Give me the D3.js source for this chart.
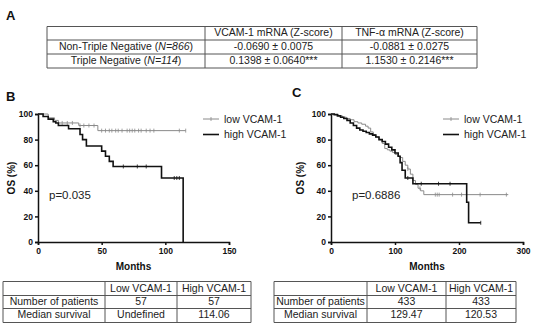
<!DOCTYPE html>
<html>
<head>
<meta charset="utf-8">
<script src="https://cdn.jsdelivr.net/npm/d3@7"></script>
<style>
body { margin: 0; background: #fff; }
svg { display: block; font-family: "Liberation Sans", Arial, sans-serif; }
</style>
</head>
<body>
<svg id="fig" width="550" height="332"></svg>
<script>
// table A
var tableAHead = ["", "VCAM-1 mRNA (Z-score)", "TNF-\u03b1 mRNA (Z-score)"];
var tableAGroups = [["Non-Triple Negative (", "N=866", ")"], ["Triple Negative (", "N=114", ")"]];
var tableAVcam = ["-0.0690 \u00b1 0.0075", "0.1398 \u00b1 0.0640***"];
var tableATnf = ["-0.0881 \u00b1 0.0275", "1.1530 \u00b1 0.2146***"];

// panel B (n=57 per group)
var bLowTime = [0, 8, 13, 16, 32, 47, 116];
var bLowSurv = [100, 97, 95, 93, 91, 87, 87];
var bLowCens = [19, 23, 27, 33, 36, 40, 44, 50, 53, 56, 58, 61, 63, 66, 70, 72, 74, 76, 79, 81, 85, 88, 91, 111, 116];
var bHighTime = [0, 4, 8, 12, 14, 16, 24, 33, 35, 38, 50, 53, 56, 59, 97, 114];
var bHighSurv = [100, 98, 96, 94, 93, 91, 88.5, 84, 80, 75, 71, 67, 63, 59, 50, 0];
var bHighCens = [67, 78, 85, 107, 109, 111];

// panel C (n=433 per group)
var cLowTime = [0, 6, 12, 18, 24, 30, 36, 42, 48, 54, 58, 62, 66, 70, 75, 80, 84, 88, 92, 96, 100, 104, 108, 112, 116, 120, 124, 128, 132, 136, 140, 145, 277];
var cLowSurv = [100, 99.5, 98.5, 97.5, 96.5, 95.5, 94, 93, 92, 90.5, 89, 86, 84, 82, 80, 77, 73, 72, 71, 70, 68.5, 67, 66, 63, 60, 57, 53, 48, 45, 42, 40, 37, 37];
var cLowCens = [120, 139, 163, 166, 169, 190, 204, 233, 274];
var cHighTime = [0, 5, 10, 15, 20, 25, 30, 35, 40, 45, 50, 55, 60, 65, 70, 75, 80, 85, 90, 95, 100, 105, 108, 111, 116, 128, 212, 215, 234];
var cHighSurv = [100, 99.5, 98.5, 97.5, 96.5, 95, 93, 91, 89, 87.5, 86.5, 85.5, 84.5, 83.5, 82, 80, 78.5, 76.5, 74, 72, 69.5, 67, 62, 56, 50, 45.5, 31, 15, 15];
var cHighCens = [120, 141, 168, 186, 234];

var yTicks = [0, 20, 40, 60, 80, 100];
var bXTicks = [0, 50, 100, 150];
var cXTicks = [0, 100, 200, 300];

var tableBHead = ["", "Low VCAM-1", "High VCAM-1"];
var tableBRows = [["Number of patients", "57", "57"], ["Median survival", "Undefined", "114.06"]];
var tableCHead = ["", "Low VCAM-1", "High VCAM-1"];
var tableCRows = [["Number of patients", "433", "433"], ["Median survival", "129.47", "120.53"]];

var svg = d3.select("#fig");

// ---------- table A ----------
var aCols = [47, 205, 342, 477];
var aRows = [26, 39.5, 53.5, 67.5];
var drawGrid = function(g, cols, rows){
	for (var i = 0; i < rows.length; i++){
		g.append("line").attr("x1", cols[0]).attr("x2", cols[cols.length - 1])
			.attr("y1", rows[i]).attr("y2", rows[i]).attr("stroke", "#555").attr("stroke-width", 1);
	}
	for (var j = 0; j < cols.length; j++){
		g.append("line").attr("x1", cols[j]).attr("x2", cols[j])
			.attr("y1", rows[0]).attr("y2", rows[rows.length - 1]).attr("stroke", "#555").attr("stroke-width", 1);
	}
};
var cellText = function(g, cols, rows, r, c, txt){
	return g.append("text")
		.attr("x", (cols[c] + cols[c + 1]) / 2)
		.attr("y", (rows[r] + rows[r + 1]) / 2 + 3.6)
		.attr("text-anchor", "middle")
		.attr("font-size", "10.5px")
		.attr("fill", "#222")
		.text(txt);
};
var gA = svg.append("g");
drawGrid(gA, aCols, aRows.map(function(d){ return d + 0.5; }));
cellText(gA, aCols, aRows, 0, 1, tableAHead[1]);
cellText(gA, aCols, aRows, 0, 2, tableAHead[2]);
tableAGroups.forEach(function(d, i){
	var t = cellText(gA, aCols, aRows, i + 1, 0, "");
	t.append("tspan").text(d[0]);
	t.append("tspan").attr("font-style", "italic").text(d[1]);
	t.append("tspan").text(d[2]);
	cellText(gA, aCols, aRows, i + 1, 1, tableAVcam[i]);
	cellText(gA, aCols, aRows, i + 1, 2, tableATnf[i]);
});

// panel letters
var letter = function(x, y, t){
	svg.append("text").attr("x", x).attr("y", y).attr("font-weight", "bold")
		.attr("font-size", "13px").attr("fill", "#111").text(t);
};
letter(6, 20, "A");
letter(6, 101, "B");
letter(292, 97, "C");

// ---------- survival panels ----------
var drawPanel = function(opt){
	var g = svg.append("g");
	var x = d3.scaleLinear().domain(opt.xDomain).range(opt.xRange);
	var y = d3.scaleLinear().domain([0, 100]).range([242, 114]);

	var yAxis = g.append("g").attr("transform", "translate(" + opt.xRange[0] + ",0)")
		.call(d3.axisLeft(y).tickValues(yTicks).tickSize(3).tickPadding(2));
	var xAxis = g.append("g").attr("transform", "translate(0,242)")
		.call(d3.axisBottom(x).tickValues(opt.xTicks).tickSize(3).tickPadding(3));
	[xAxis, yAxis].forEach(function(a){
		a.select(".domain").attr("stroke", "#111").attr("stroke-width", 1.5);
		a.selectAll(".tick line").attr("stroke", "#111").attr("stroke-width", 1.5);
		a.selectAll("text").attr("font-family", "Liberation Sans, Arial, sans-serif")
			.attr("font-weight", "bold").attr("font-size", "8.5px").attr("fill", "#111");
	});

	g.append("text").attr("transform", "translate(" + opt.yLabelX + ",178) rotate(-90)")
		.attr("text-anchor", "middle").attr("font-weight", "bold").attr("font-size", "10px")
		.attr("fill", "#111").text("OS (%)");
	g.append("text").attr("x", (opt.xRange[0] + opt.xRange[1]) / 2).attr("y", 270)
		.attr("text-anchor", "middle").attr("font-weight", "bold").attr("font-size", "10px")
		.attr("fill", "#111").text("Months");

	var line = d3.line().curve(d3.curveStepAfter)
		.x(function(d){ return x(d[0]); }).y(function(d){ return y(d[1]); });
	var stepValue = function(times, surv, t){
		var v = surv[0];
		for (var i = 0; i < times.length; i++){
			if (times[i] <= t){ v = surv[i]; }
		}
		return v;
	};
	var series = [
		{t: opt.lowTime, s: opt.lowSurv, c: opt.lowCens, color: "#8a8a8a", w: 1},
		{t: opt.highTime, s: opt.highSurv, c: opt.highCens, color: "#111", w: 1.6}
	];
	series.forEach(function(sr){
		g.append("path").datum(d3.zip(sr.t, sr.s)).attr("d", line)
			.attr("fill", "none").attr("stroke", sr.color).attr("stroke-width", sr.w);
		g.selectAll(null).data(sr.c).enter().append("line")
			.attr("x1", function(d){ return x(d); }).attr("x2", function(d){ return x(d); })
			.attr("y1", function(d){ return y(stepValue(sr.t, sr.s, d)) - 2; })
			.attr("y2", function(d){ return y(stepValue(sr.t, sr.s, d)) + 2; })
			.attr("stroke", sr.color).attr("stroke-width", 0.8);
	});

	// legend
	var lg = g.append("g");
	var labels = ["low VCAM-1", "high VCAM-1"];
	series.forEach(function(sr, i){
		var ly = 119 + i * 15.5;
		lg.append("line").attr("x1", opt.legX).attr("x2", opt.legX + 16).attr("y1", ly).attr("y2", ly)
			.attr("stroke", sr.color).attr("stroke-width", sr.w);
		if (i == 0){
			lg.append("line").attr("x1", opt.legX + 8).attr("x2", opt.legX + 8).attr("y1", ly - 2).attr("y2", ly + 2)
				.attr("stroke", sr.color).attr("stroke-width", 0.8);
		}
		lg.append("text").attr("x", opt.legX + 21).attr("y", ly + 3.8).attr("font-size", "10.5px")
			.attr("fill", "#222").text(labels[i]);
	});

	g.append("text").attr("x", opt.pX).attr("y", 199).attr("font-size", "11.5px")
		.attr("fill", "#222").text(opt.pText);
};

drawPanel({
	xDomain: [0, 150], xRange: [38, 229], xTicks: bXTicks,
	lowTime: bLowTime, lowSurv: bLowSurv, lowCens: bLowCens,
	highTime: bHighTime, highSurv: bHighSurv, highCens: bHighCens,
	yLabelX: 15, legX: 203, pX: 49, pText: "p=0.035"
});
drawPanel({
	xDomain: [0, 300], xRange: [331, 523], xTicks: cXTicks,
	lowTime: cLowTime, lowSurv: cLowSurv, lowCens: cLowCens,
	highTime: cHighTime, highSurv: cHighSurv, highCens: cHighCens,
	yLabelX: 304, legX: 443, pX: 352, pText: "p=0.6886"
});

// ---------- bottom tables ----------
var bRowsY = [281, 295, 308, 321.5];
var drawSmallTable = function(cols, head, rows){
	var g = svg.append("g");
	drawGrid(g, cols, bRowsY.map(function(d){ return Math.round(d) + 0.5; }));
	cellText(g, cols, bRowsY, 0, 1, head[1]);
	cellText(g, cols, bRowsY, 0, 2, head[2]);
	rows.forEach(function(r, i){
		for (var c = 0; c < 3; c++){
			cellText(g, cols, bRowsY, i + 1, c, r[c]);
		}
	});
};
drawSmallTable([3, 105, 177, 251], tableBHead, tableBRows);
drawSmallTable([274, 367, 446, 516], tableCHead, tableCRows);
</script>
</body>
</html>
